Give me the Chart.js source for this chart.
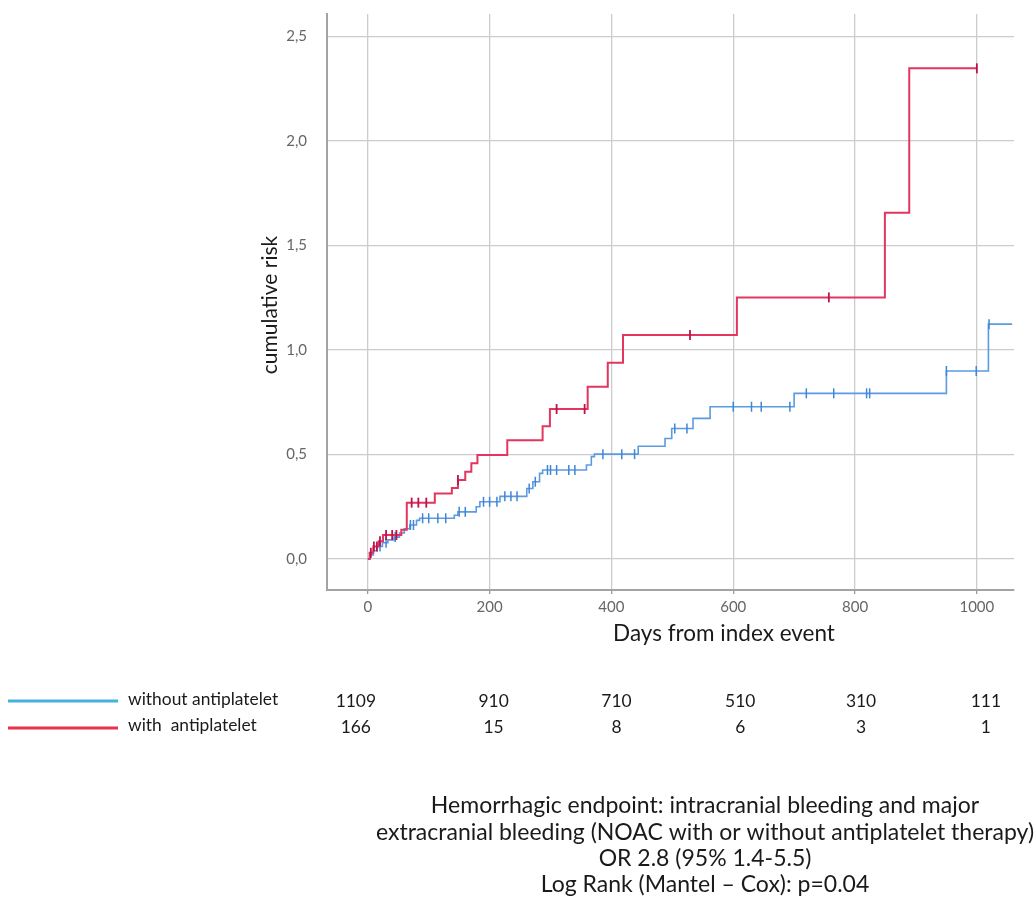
<!DOCTYPE html>
<html>
<head>
<meta charset="utf-8">
<script src="https://cdn.jsdelivr.net/npm/chart.js@4.4.1/dist/chart.umd.min.js"></script>
<style>
  body { margin: 0; background: #fff; }
  #wrap { width: 1036px; height: 909px; }
</style>
</head>
<body>
<div id="wrap"><canvas id="kmChart" width="1036" height="909"></canvas></div>
<script>
// event times (days) and cumulative risk after each event
const blueDays = [0, 4, 9, 15, 24, 33, 43, 52, 60, 69, 80, 85, 142, 148, 178, 184, 217, 261, 271, 282, 287, 359, 367, 372, 444, 488, 499, 534, 562, 700, 950, 1019, 1058];
const blueRisk = [0, 0.02, 0.04, 0.06, 0.078, 0.092, 0.105, 0.125, 0.145, 0.163, 0.185, 0.195, 0.21, 0.226, 0.25, 0.274, 0.30, 0.338, 0.37, 0.41, 0.426, 0.45, 0.49, 0.502, 0.54, 0.577, 0.625, 0.673, 0.729, 0.793, 0.90, 1.124, 1.124];

const redDays = [0, 3, 9, 18, 25, 55, 64, 110, 138, 148, 160, 170, 180, 229, 287, 299, 361, 394, 419, 606, 849, 889, 1001];
const redRisk = [0, 0.03, 0.06, 0.085, 0.115, 0.14, 0.27, 0.314, 0.34, 0.378, 0.418, 0.458, 0.498, 0.569, 0.636, 0.718, 0.824, 0.939, 1.072, 1.252, 1.657, 2.348, 2.348];

// censored observations (days)
const blueCensor = [20, 30, 45, 70, 75, 90, 100, 115, 128, 150, 160, 190, 200, 212, 225, 235, 245, 265, 275, 295, 300, 310, 330, 340, 386, 417, 438, 504, 524, 600, 630, 646, 693, 720, 765, 819, 824, 950, 999, 1020];
const redCensor = [5, 10, 15, 20, 30, 40, 47, 72, 83, 96, 148, 310, 356, 529, 757, 1000];

const xTicks = [0, 200, 400, 600, 800, 1000];
const yTicks = [0, 0.5, 1.0, 1.5, 2.0, 2.5];

// numbers at risk
const riskDays = [0, 200, 400, 600, 800, 1000];
const atRiskWithout = [1109, 910, 710, 510, 310, 111];
const atRiskWith = [166, 15, 8, 6, 3, 1];

const labelWithout = 'without antiplatelet';
const labelWith = 'with  antiplatelet';
const xTitle = 'Days from index event';
const yTitle = 'cumulative risk';
const noteLines = [
  'Hemorrhagic endpoint: intracranial bleeding and major',
  'extracranial bleeding (NOAC with or without antiplatelet therapy)',
  'OR 2.8 (95% 1.4-5.5)',
  'Log Rank (Mantel \u2013 Cox): p=0.04'
];

const RED = '#e2365f';
const RED_MARK = '#b8154d';
const BLUE = '#5b9be0';
const BLUE_MARK = '#3f86d6';
const FONT = 'Lato, "Open Sans", sans-serif';

function riskAt(days, risks, t) {
  let r = risks[0];
  for (let i = 0; i < days.length; i++) {
    if (days[i] <= t) r = risks[i];
  }
  return r;
}

function toPoints(xs, ys) {
  return xs.map((x, i) => ({ x: x, y: ys[i] }));
}

function censorPoints(list, days, risks) {
  return list.map(t => ({ x: t, y: riskAt(days, risks, t) }));
}

// small nudges for the at-risk columns (pixels)
const colNudge = [-12, 4, 5, 7, 6, 9];

const extrasPlugin = {
  id: 'extras',
  afterDraw(chart) {
    const ctx = chart.ctx;
    const x = chart.scales.x;
    ctx.save();
    ctx.fillStyle = '#1a1a1a';
    ctx.textBaseline = 'middle';

    // axis titles
    ctx.font = '22.5px ' + FONT;
    ctx.textAlign = 'center';
    ctx.fillText(xTitle, 724, 634);
    ctx.save();
    ctx.translate(270, 305);
    ctx.rotate(-Math.PI / 2);
    ctx.font = '21px ' + FONT;
    ctx.fillText(yTitle, 0, 0);
    ctx.restore();

    // legend lines
    ctx.lineWidth = 3;
    ctx.strokeStyle = '#46b2df';
    ctx.beginPath(); ctx.moveTo(8, 701); ctx.lineTo(118, 701); ctx.stroke();
    ctx.strokeStyle = '#e7324b';
    ctx.beginPath(); ctx.moveTo(8, 728); ctx.lineTo(118, 728); ctx.stroke();

    ctx.font = '17.4px ' + FONT;
    ctx.textAlign = 'left';
    ctx.fillText(labelWithout, 128, 699);
    ctx.fillText(labelWith, 128, 725);

    // numbers at risk
    ctx.textAlign = 'center';
    riskDays.forEach((d, i) => {
      const px = x.getPixelForValue(d) + colNudge[i];
      ctx.fillText(String(atRiskWithout[i]), px, 701);
      ctx.fillText(String(atRiskWith[i]), px, 727);
    });

    // notes
    ctx.font = '23px ' + FONT;
    noteLines.forEach((line, i) => {
      ctx.fillText(line, 705, 806 + i * 26.3);
    });
    ctx.restore();
  }
};

const ctx = document.getElementById('kmChart').getContext('2d');
new Chart(ctx, {
  type: 'line',
  data: {
    datasets: [
      {
        label: 'with censored',
        data: censorPoints(redCensor, redDays, redRisk),
        showLine: false,
        pointStyle: 'line',
        rotation: 90,
        pointRadius: 5,
        pointBorderWidth: 1.8,
        borderColor: RED_MARK,
        backgroundColor: RED_MARK,
        order: 0
      },
      {
        label: labelWith,
        data: toPoints(redDays, redRisk),
        stepped: 'before',
        borderColor: RED,
        borderWidth: 2,
        pointRadius: 0,
        fill: false,
        order: 1
      },
      {
        label: 'without censored',
        data: censorPoints(blueCensor, blueDays, blueRisk),
        showLine: false,
        pointStyle: 'line',
        rotation: 90,
        pointRadius: 5,
        pointBorderWidth: 1.5,
        borderColor: BLUE_MARK,
        backgroundColor: BLUE_MARK,
        order: 2
      },
      {
        label: labelWithout,
        data: toPoints(blueDays, blueRisk),
        stepped: 'before',
        borderColor: BLUE,
        borderWidth: 1.6,
        pointRadius: 0,
        fill: false,
        order: 3
      }
    ]
  },
  options: {
    responsive: false,
    animation: false,
    layout: { padding: { left: 0, top: 14, right: 22, bottom: 279 } },
    plugins: {
      legend: { display: false },
      tooltip: { enabled: false }
    },
    scales: {
      x: {
        type: 'linear',
        min: -67,
        max: 1061,
        afterBuildTicks: s => { s.ticks = xTicks.map(v => ({ value: v })); },
        afterFit: s => { s.height = 40; s.paddingLeft = 0; s.paddingRight = 0; },
        grid: { color: '#cccccc', lineWidth: 1.3, tickLength: 4, tickColor: '#999' },
        border: { display: true, color: '#a3a3a3', width: 2 },
        ticks: {
          color: '#666',
          font: { size: 15, family: FONT },
          padding: 4,
          callback: v => String(v)
        }
      },
      y: {
        type: 'linear',
        min: -0.148,
        max: 2.608,
        afterBuildTicks: s => { s.ticks = yTicks.map(v => ({ value: v })); },
        afterFit: s => { s.width = 327; s.paddingTop = 0; s.paddingBottom = 0; },
        grid: { color: '#cccccc', lineWidth: 1.3, drawTicks: false },
        border: { display: true, color: '#a3a3a3', width: 2 },
        ticks: {
          color: '#666',
          font: { size: 15, family: FONT },
          padding: 20,
          callback: v => v.toFixed(1).replace('.', ',')
        }
      }
    }
  },
  plugins: [extrasPlugin]
});
</script>
</body>
</html>
